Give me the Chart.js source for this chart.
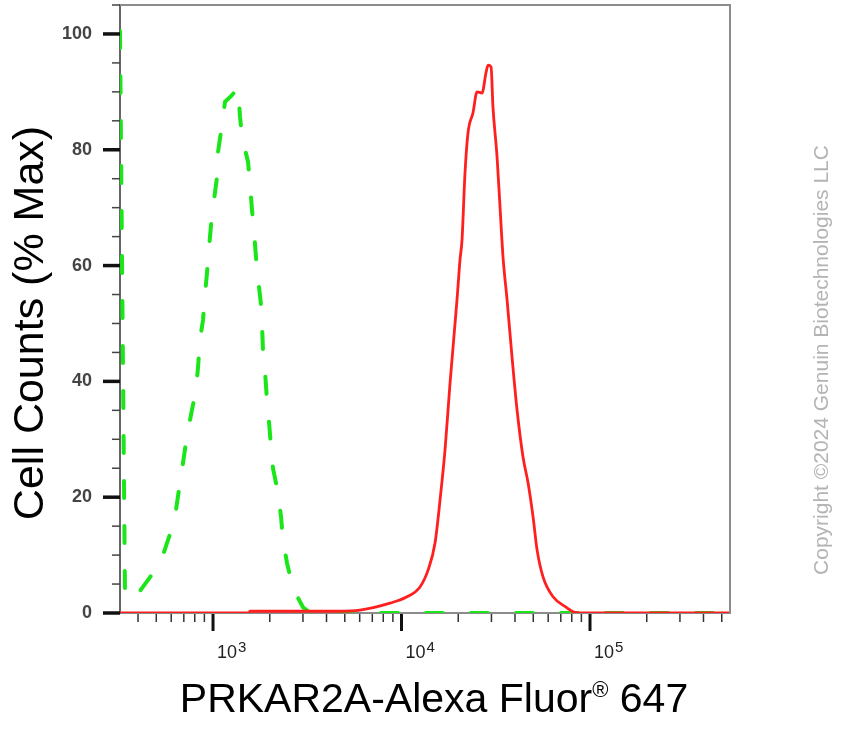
<!DOCTYPE html>
<html>
<head>
<meta charset="utf-8">
<script src="https://cdn.jsdelivr.net/npm/chart.js@4.4.1/dist/chart.umd.min.js"></script>
<style>
  html, body { margin: 0; padding: 0; background: #fff; }
  canvas { display: block; }
</style>
</head>
<body>
<canvas id="histogram" width="850" height="730"></canvas>
<script>
const FONT = "'Liberation Sans', Arial, sans-serif";

// isotype control, dashed green
const controlX = [321, 341, 363, 395, 481, 543, 599, 636, 668, 693, 728, 764, 812, 832, 853, 885, 907, 930, 953, 976,
  1012, 1050, 1063, 1103, 1158, 1250, 1358, 1390, 1425, 1534, 1571, 1610, 1651, 1692, 1734, 1798, 1821, 1843, 1889,
  1933, 1982, 2031, 2080, 2213, 2296, 2351, 2470, 2656, 2999, 3273, 553000];
const controlY = [100.5, 4.3, 2.2, 3.1, 6.9, 10.0, 14.2, 17.8, 22.5, 25.9, 30.7, 34.2, 38.5, 42.3, 47.2, 50.6, 55.1, 58.9, 63.2, 67.0,
  71.3, 75.3, 79.6, 83.2, 88.3, 89.3, 90.7, 85.8, 82.2, 77.9, 74.1, 69.6, 65.8, 61.3, 57.7, 53.2, 49.4, 44.9, 41.5,
  36.8, 33.0, 28.7, 25.0, 20.7, 16.6, 12.6, 8.6, 4.3, 1.0, 0, 0];

// PRKAR2A stained cells, solid red
const stainedX = [321, 1540, 1571, 4720, 6026, 8690, 10690, 12530, 13830, 15060, 16010, 17020, 18090, 19700, 20430, 20940,
  21720, 22530, 23950, 25160, 26740, 28070, 28780, 29860, 30560, 32120, 33320, 34550, 36300, 38580, 41010, 44140,
  46920, 49880, 52380, 56380, 63680, 75530, 81270, 88530, 553000];
const stainedY = [0, 0, 0.3, 0.3, 0.5, 1.7, 2.8, 4.5, 7.4, 12.1, 19.5, 28.2, 39.7, 54.1, 61.0, 64.4,
  76.0, 82.9, 86.4, 90.0, 89.8, 93.3, 94.6, 94.3, 87.4, 78.8, 70.1, 61.5, 54.1, 44.2, 35.1, 26.9,
  22.5, 16.6, 10.9, 6.2, 2.8, 0.9, 0.2, 0, 0];

const yTickLabels = [0, 20, 40, 60, 80, 100];
const xDecades = [1000, 10000, 100000];
const xDecadeExponents = ['3', '4', '5'];

const yTitle = 'Cell Counts (% Max)';
const xTitleParts = ['PRKAR2A-Alexa Fluor', '®', ' 647'];
const copyright = 'Copyright ©2024 Genuin Biotechnologies LLC';

const toPoints = (xs, ys) => xs.map((x, i) => ({ x, y: ys[i] }));

// frame, FlowJo style tick marks, decade labels and the titles
const axisDecor = {
  id: 'axisDecor',
  afterDraw(chart) {
    const { ctx, chartArea: area, scales: { x, y } } = chart;
    ctx.save();

    ctx.strokeStyle = '#8c8c8c';
    ctx.lineWidth = 2;
    ctx.beginPath();
    ctx.moveTo(area.left, area.top);
    ctx.lineTo(area.right, area.top);
    ctx.lineTo(area.right, area.bottom);
    ctx.stroke();

    y.ticks.forEach((t) => {
      const py = y.getPixelForValue(t.value);
      const major = yTickLabels.includes(t.value);
      ctx.strokeStyle = major ? '#111' : '#444';
      ctx.lineWidth = major ? 3.5 : 1.5;
      ctx.beginPath();
      ctx.moveTo(area.left - (major ? 17 : 8), py);
      ctx.lineTo(area.left, py);
      ctx.stroke();
    });

    for (let e = 2; e <= 5; e++) {
      for (let m = 1; m <= 9; m++) {
        const v = m * Math.pow(10, e);
        if (v < x.min || v > x.max) continue;
        const px = x.getPixelForValue(v);
        const major = m === 1;
        ctx.strokeStyle = major ? '#111' : '#333';
        ctx.lineWidth = major ? 3 : 1.5;
        ctx.beginPath();
        ctx.moveTo(px, area.bottom + 1);
        ctx.lineTo(px, area.bottom + (major ? 18 : 9));
        ctx.stroke();
      }
    }

    // decade labels 10^n, written a little right of the tick like the original
    ctx.fillStyle = '#222';
    ctx.textAlign = 'left';
    ctx.textBaseline = 'alphabetic';
    xDecades.forEach((d, i) => {
      const px = x.getPixelForValue(d) + 4;
      ctx.font = `18px ${FONT}`;
      ctx.fillText('10', px, area.bottom + 45);
      const w = ctx.measureText('10').width;
      ctx.font = `15px ${FONT}`;
      ctx.fillText(xDecadeExponents[i], px + w + 1, area.bottom + 39);
    });

    ctx.fillStyle = '#000';

    // y title
    ctx.save();
    ctx.font = `43px ${FONT}`;
    ctx.textAlign = 'center';
    ctx.translate(43, 323);
    ctx.rotate(-Math.PI / 2);
    ctx.fillText(yTitle, 0, 0);
    ctx.restore();

    // x title with raised registered mark
    const big = `41px ${FONT}`;
    const small = `22px ${FONT}`;
    ctx.textAlign = 'left';
    ctx.font = big;
    const w1 = ctx.measureText(xTitleParts[0]).width;
    const w3 = ctx.measureText(xTitleParts[2]).width;
    ctx.font = small;
    const w2 = ctx.measureText(xTitleParts[1]).width;
    let tx = 434 - (w1 + w2 + w3) / 2;
    const base = 712;
    ctx.font = big;
    ctx.fillText(xTitleParts[0], tx, base);
    tx += w1;
    ctx.font = small;
    ctx.fillText(xTitleParts[1], tx, base - 15);
    tx += w2;
    ctx.font = big;
    ctx.fillText(xTitleParts[2], tx, base);

    // watermark
    ctx.save();
    ctx.font = `21px ${FONT}`;
    ctx.fillStyle = '#b4b4b4';
    ctx.textAlign = 'center';
    ctx.translate(828, 360);
    ctx.rotate(-Math.PI / 2);
    ctx.fillText(copyright, 0, 0);
    ctx.restore();

    ctx.restore();
  }
};

new Chart(document.getElementById('histogram'), {
  type: 'line',
  data: {
    datasets: [
      {
        label: 'Isotype control',
        data: toPoints(controlX, controlY),
        borderColor: '#1ae61a',
        borderWidth: 4,
        borderDash: [17, 28],
        borderCapStyle: 'round',
        pointRadius: 0,
        tension: 0,
        order: 2
      },
      {
        label: 'PRKAR2A',
        data: toPoints(stainedX, stainedY),
        borderColor: '#ff1f1f',
        borderWidth: 2.8,
        pointRadius: 0,
        cubicInterpolationMode: 'monotone',
        order: 1
      }
    ]
  },
  options: {
    responsive: false,
    animation: false,
    devicePixelRatio: 1,
    layout: { padding: { top: 5, right: 120, left: 0, bottom: 0 } },
    plugins: {
      legend: { display: false },
      tooltip: { enabled: false }
    },
    scales: {
      x: {
        type: 'logarithmic',
        min: 321,
        max: 553000,
        afterFit: (s) => {
          s.height = 117;
          s.paddingLeft = 0;
          s.paddingRight = 0;
          s.paddingTop = 0;
          s.paddingBottom = 0;
        },
        grid: { display: true, drawOnChartArea: false, drawTicks: false },
        border: { display: true, color: '#8c8c8c', width: 2 },
        ticks: { display: false }
      },
      y: {
        min: 0,
        max: 105,
        afterFit: (s) => {
          s.width = 120;
          s.paddingTop = 0;
          s.paddingBottom = 0;
        },
        grid: { display: true, drawOnChartArea: false, drawTicks: false },
        border: { display: true, color: '#666', width: 2 },
        ticks: {
          stepSize: 5,
          autoSkip: false,
          padding: 28,
          color: '#444',
          font: { family: FONT, size: 18, weight: 'bold' },
          callback: (v) => (yTickLabels.includes(v) ? String(v) : '')
        }
      }
    }
  },
  plugins: [axisDecor]
});
</script>
</body>
</html>
